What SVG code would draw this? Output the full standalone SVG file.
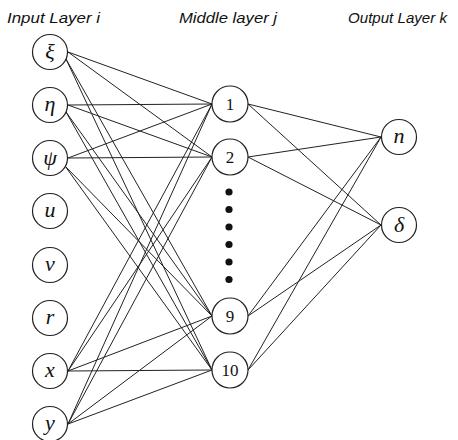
<svg xmlns="http://www.w3.org/2000/svg" width="458" height="440" viewBox="0 0 458 440">
<style>
.hdr{font-family:"Liberation Sans",Arial,sans-serif;font-style:italic;font-size:14px;fill:#111}
.nd circle{fill:#fff;stroke:#222;stroke-width:1.2}
.sym{font-family:"Liberation Serif","Times New Roman",serif;font-style:italic;font-size:22px;fill:#111;text-anchor:middle}
.num{font-family:"Liberation Serif","Times New Roman",serif;font-size:17px;fill:#111;text-anchor:middle}
#edges line{stroke:#222;stroke-width:1}
.dot{fill:#111}
</style>
<rect width="458" height="440" fill="#fff"/>
<text class="hdr" x="7" y="22.5" textLength="93" lengthAdjust="spacingAndGlyphs">Input Layer i</text>
<text class="hdr" x="179" y="22.5" textLength="98" lengthAdjust="spacingAndGlyphs">Middle layer j</text>
<text class="hdr" x="348" y="22.5" textLength="99" lengthAdjust="spacingAndGlyphs">Output Layer k</text>
<g id="edges">
<!-- xi -->
<line x1="68" y1="52" x2="212" y2="104"/>
<line x1="68" y1="52" x2="212" y2="157"/>
<line x1="66" y1="59" x2="212" y2="316"/>
<line x1="66" y1="59" x2="212" y2="370"/>
<!-- eta -->
<line x1="68" y1="105" x2="212" y2="104"/>
<line x1="68" y1="105" x2="212" y2="157"/>
<line x1="66" y1="112" x2="212" y2="316"/>
<line x1="66" y1="112" x2="212" y2="370"/>
<!-- psi -->
<line x1="68" y1="158" x2="212" y2="104"/>
<line x1="68" y1="158" x2="212" y2="157"/>
<line x1="65" y1="166" x2="212" y2="316"/>
<line x1="65" y1="166" x2="212" y2="370"/>
<!-- x -->
<line x1="68" y1="371" x2="212" y2="104"/>
<line x1="68" y1="371" x2="212" y2="157"/>
<line x1="68" y1="371" x2="212" y2="316"/>
<line x1="68" y1="371" x2="212" y2="370"/>
<!-- y -->
<line x1="68" y1="424" x2="212" y2="104"/>
<line x1="68" y1="424" x2="212" y2="157"/>
<line x1="68" y1="424" x2="212" y2="316"/>
<line x1="68" y1="424" x2="212" y2="370"/>
<!-- middle to output -->
<line x1="248" y1="104" x2="381" y2="137"/>
<line x1="248" y1="104" x2="381" y2="225"/>
<line x1="248" y1="157" x2="381" y2="137"/>
<line x1="248" y1="157" x2="381" y2="225"/>
<line x1="248" y1="316" x2="381" y2="137"/>
<line x1="248" y1="316" x2="381" y2="225"/>
<line x1="248" y1="370" x2="381" y2="137"/>
<line x1="248" y1="370" x2="381" y2="225"/>
</g>
<g id="in-xi" class="nd"><circle cx="50" cy="52" r="17.5"/><text class="sym" x="50" y="59">ξ</text></g>
<g id="in-eta" class="nd"><circle cx="50" cy="105" r="17.5"/><text class="sym" x="50" y="111">η</text></g>
<g id="in-psi" class="nd"><circle cx="50" cy="158" r="17.5"/><text class="sym" x="50" y="165">ψ</text></g>
<g id="in-u" class="nd"><circle cx="50" cy="211" r="17.5"/><text class="sym" x="50" y="217">u</text></g>
<g id="in-v" class="nd"><circle cx="50" cy="265" r="17.5"/><text class="sym" x="50" y="271">v</text></g>
<g id="in-r" class="nd"><circle cx="50" cy="318" r="17.5"/><text class="sym" x="50" y="324">r</text></g>
<g id="in-x" class="nd"><circle cx="50" cy="371" r="17.5"/><text class="sym" x="50" y="377">x</text></g>
<g id="in-y" class="nd"><circle cx="50" cy="424" r="17.5"/><text class="sym" x="50" y="430">y</text></g>
<g id="mid-1" class="nd"><circle cx="230" cy="104" r="18"/><text class="num" x="230" y="110">1</text></g>
<g id="mid-2" class="nd"><circle cx="230" cy="157" r="18"/><text class="num" x="230" y="163">2</text></g>
<g id="mid-dots">
<circle class="dot" cx="229" cy="192" r="3.6"/>
<circle class="dot" cx="229" cy="209.5" r="3.6"/>
<circle class="dot" cx="229" cy="227" r="3.6"/>
<circle class="dot" cx="229" cy="244.5" r="3.6"/>
<circle class="dot" cx="229" cy="262" r="3.6"/>
<circle class="dot" cx="229" cy="279.5" r="3.6"/>
</g>
<g id="mid-9" class="nd"><circle cx="230" cy="316" r="18"/><text class="num" x="230" y="322">9</text></g>
<g id="mid-10" class="nd"><circle cx="230" cy="370" r="18"/><text class="num" x="230" y="376">10</text></g>
<g id="out-n" class="nd"><circle cx="399" cy="137" r="17.5"/><text class="sym" x="399" y="143">n</text></g>
<g id="out-delta" class="nd"><circle cx="399" cy="225" r="17.5"/><text class="sym" x="399" y="232">δ</text></g>
</svg>
